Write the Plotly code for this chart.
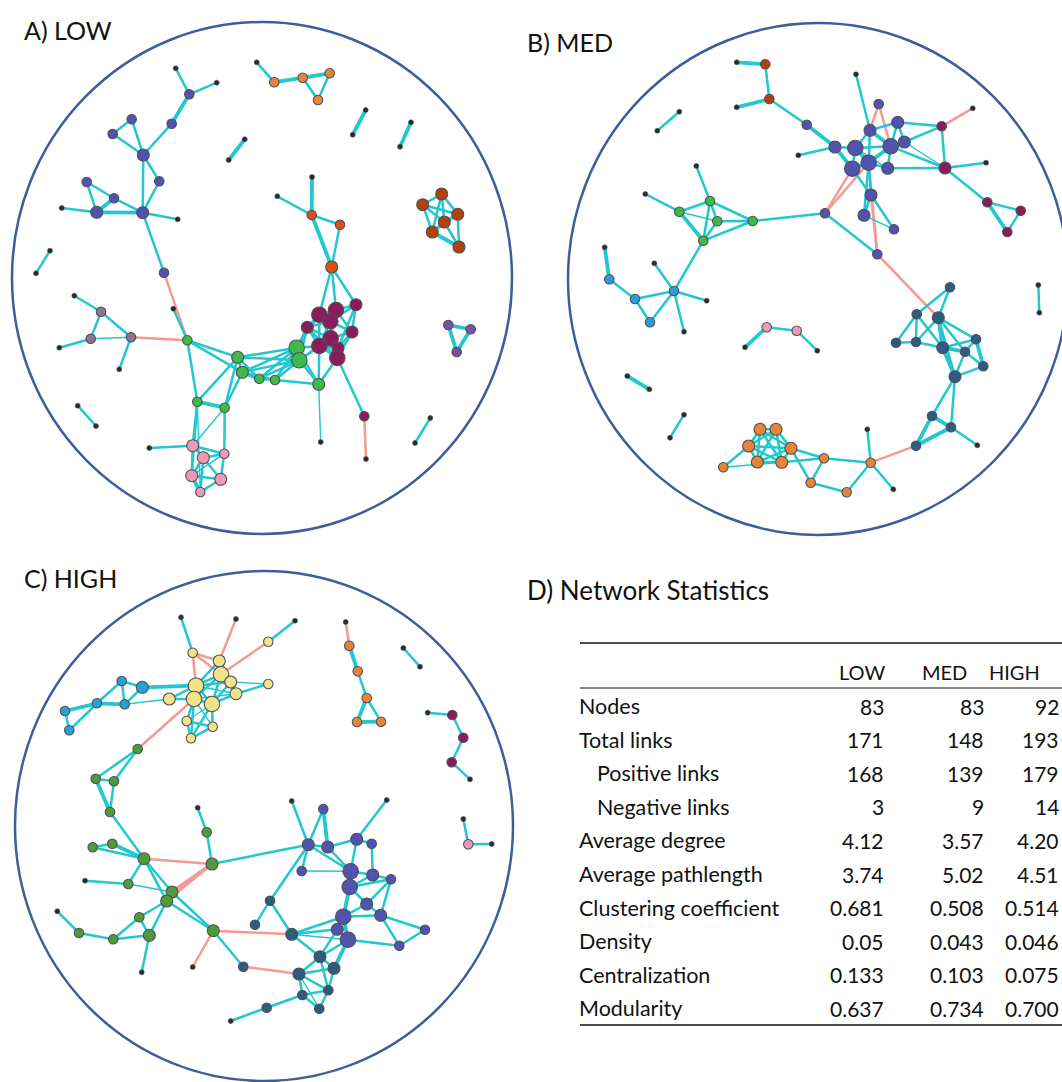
import plotly.graph_objects as go

# ---------------- DATA ----------------
# nodes: (id, x, y, community, degree class)   edges: (id1, id2, weight class)
A_nodes = [
    (1,175.7,68.3,'k',0),(2,216.7,82.7,'k',0),(3,189.3,94.3,'pu',1),(4,171.7,123.7,'pu',1),
    (5,131.7,119.3,'pu',1),(6,112.7,134,'pu',1),(7,143.3,155,'pu',2),(8,159.3,181.3,'pu',1),
    (9,86.7,182,'pu',1),(10,114,198.3,'pu',1),(11,96.7,212.3,'pu',2),(12,142.7,212.7,'pu',2),
    (13,61.7,208,'k',0),(14,177.7,219.3,'k',0),(15,164,272.7,'pu',1),
    (16,50,250.7,'k',0),(17,36,273.3,'k',0),(18,244.7,139.3,'k',0),(19,228.7,160,'k',0),
    (20,256.7,62.3,'k',0),(21,274.3,82.3,'or',1),(22,302.7,77.7,'or',1),(23,329.7,73.3,'or',1),(24,318,100,'or',1),
    (25,365.7,110,'k',0),(26,352.7,134.7,'k',0),(27,411,122.3,'k',0),(28,400,146.7,'k',0),
    (29,441.7,194,'rd',2),(30,422.7,204.7,'rd',2),(31,457.7,214.3,'rd',2),(32,444.3,222,'rd',2),
    (33,432.3,232,'rd',2),(34,459,247,'rd',2),
    (35,312,177,'k',0),(36,277.3,196.3,'k',0),(37,311.7,215,'og',1),(38,340,224.7,'og',1),(39,331.7,267,'og',2),
    (40,74.3,295.7,'k',0),(41,101,311.7,'gy',1),(42,90.7,338.7,'gy',1),(43,59.3,347.7,'k',0),
    (44,131,337.3,'gy',1),(45,119.3,369.3,'k',0),(46,77.7,405.7,'k',0),(47,96,426,'k',0),
    (48,173.3,308.7,'k',0),(49,187.3,340.3,'gr',1),(50,237.7,357.3,'gr',2),(51,242.3,372.3,'gr',2),
    (52,259.3,378.7,'gr',1),(53,197.3,401.7,'gr',1),(54,224.7,407.7,'gr',1),(55,296.7,347.7,'gr',3),
    (56,299.3,360.3,'gr',3),(57,275,380,'gr',1),(58,318.7,384.3,'gr',2),(59,320.7,442,'k',0),
    (60,149.3,448,'k',0),(61,192.7,445.7,'pk',2),(62,203.3,457.7,'pk',2),(63,224.3,453.7,'pk',1),
    (64,191.7,475.7,'pk',2),(65,220.7,479.3,'pk',2),(66,200.3,492,'pk',1),
    (67,356,304.7,'mg',2),(68,336,310,'mg',3),(69,319.3,314.7,'mg',3),(70,330.3,321.3,'mg',3),
    (71,307.3,327.3,'mg',2),(72,352,332,'mg',2),(73,330.7,338.3,'mg',3),(74,319.3,346,'mg',3),
    (75,338,348,'mg',2),(76,337.3,358,'mg',3),(77,364.3,416.3,'mg',1),(78,366,459,'k',0),
    (79,448.3,325,'vi',1),(80,470.7,329.3,'vi',1),(81,456.7,352,'vi',1),(82,430.3,418,'k',0),(83,415,443,'k',0),
]
A_pos_links = [
    (1,3,1),(2,3,1),(3,4,2),(4,7,1),(5,7,1),(6,7,1),(5,6,1),(7,12,1),(7,8,1),(8,12,1),(9,11,1),(9,10,1),
    (10,11,2),(10,12,1),(11,12,2),(13,11,1),(12,14,1),(12,15,1),(16,17,1),(18,19,2),
    (20,21,1),(21,22,2),(22,23,2),(22,24,1),(23,24,1),(25,26,2),(27,28,2),
    (29,30,1),(29,31,1),(29,32,1),(29,33,1),(30,31,1),(30,32,1),(30,33,1),(31,32,1),(31,34,1),
    (32,33,1),(32,34,1),(33,34,2),(31,33,1),
    (35,37,2),(36,37,1),(37,38,1),(37,39,2),(38,39,1),(39,69,1),(39,68,1),(39,67,1),
    (40,41,1),(41,42,1),(41,44,1),(42,44,0),(43,42,1),(44,45,1),(46,47,1),
    (48,49,1),(49,50,1),(49,51,1),(49,53,1),(53,54,2),(53,50,1),(54,51,1),(54,50,1),(50,51,1),(50,52,1),
    (51,52,2),(51,57,1),(52,57,1),(57,55,1),(52,55,1),(50,55,1),(51,55,1),(57,58,1),(55,56,1),(55,58,1),
    (56,58,1),(58,59,0),(55,71,1),(55,74,1),(56,74,1),(56,73,1),(55,69,1),(56,71,1),(58,76,1),(58,74,1),
    (52,56,1),(50,56,1),(51,56,1),(57,56,1),
    (67,68,1),(67,70,1),(67,72,1),(67,75,1),(68,69,1),(68,70,1),(68,73,1),(69,70,1),(69,71,1),(69,73,1),
    (70,71,1),(70,72,1),(70,73,1),(70,74,1),(71,73,1),(71,74,1),(72,73,1),(72,75,1),(72,76,1),(73,74,1),
    (73,75,1),(73,76,1),(74,75,1),(74,76,1),(75,76,1),(69,74,1),(68,72,1),(71,76,1),(76,77,1),
    (60,61,1),(61,62,1),(61,63,1),(61,64,1),(62,63,1),(62,64,1),(62,65,1),(62,66,1),(63,65,1),(64,66,2),
    (65,66,1),(64,65,1),(63,64,0),(53,61,1),(53,64,1),(54,63,1),(54,61,0),(53,66,0),
    (79,80,2),(79,81,2),(80,81,2),(82,83,1),
]
A_neg_links = [(15,49,1),(44,49,1),(77,78,1)]

B_nodes = [
    (1,736.7,62.3,'k',0),(2,765.3,64.3,'rd',1),(3,769.3,99,'rd',1),(4,736.7,107.3,'k',0),
    (5,679.3,111.7,'k',0),(6,657.3,130.7,'k',0),
    (7,696.3,166,'k',0),(8,645.3,194,'k',0),(9,710,201,'gr',1),(10,679.3,211.7,'gr',1),
    (11,717.3,221.3,'gr',1),(12,752.7,221,'gr',1),(13,703.3,240.7,'gr',1),
    (14,604.7,247.3,'k',0),(15,609.3,279.3,'bl',1),(16,635,299,'bl',1),(17,674,291,'bl',1),
    (18,654.3,263.3,'k',0),(19,650,322.3,'bl',1),(20,706.7,300.7,'k',0),(21,684,331.7,'k',0),
    (22,766.7,327.3,'pk',1),(23,745,347.3,'k',0),(24,796.7,330.7,'pk',1),(25,817.3,350.7,'k',0),
    (26,627.3,376,'k',0),(27,649.3,389.3,'k',0),(28,684,414.7,'k',0),(29,670,437.7,'k',0),
    (30,760,429.3,'or',2),(31,776,429.3,'or',2),(32,748.7,446,'or',2),(33,757.3,462,'or',2),
    (34,781.7,462.3,'or',2),(35,791,448.3,'or',2),(36,723.3,467.3,'or',1),(37,824,458.3,'or',1),
    (38,810.7,482.7,'or',1),(39,846.7,492.3,'or',1),(40,870.7,462.7,'or',1),(41,867.3,429.3,'k',0),
    (42,893.3,489.3,'k',0),
    (43,950,287.3,'dt',1),(44,916.7,314.3,'dt',1),(45,938.3,317.7,'dt',2),(46,896,342.7,'dt',1),
    (47,916,342,'dt',1),(48,942.7,347.7,'dt',2),(49,976,339.3,'dt',1),(50,965,351.7,'dt',1),
    (51,983.3,366.3,'dt',1),(52,955,376.7,'dt',2),(53,932,416,'dt',1),(54,951,427.3,'dt',1),
    (55,916,445.7,'dt',1),(56,977.3,445.3,'k',0),(57,1038.3,285,'k',0),(58,1039.3,312.7,'k',0),
    (59,856,74.3,'k',0),(60,878.7,104,'pu',1),(61,806.7,124.7,'pu',1),(62,897.7,122.3,'pu',2),
    (63,870,130.3,'pu',2),(64,904.3,142,'pu',2),(65,835,147,'pu',2),(66,855.3,148,'pu',3),
    (67,890.7,146.3,'pu',3),(68,798.3,155.3,'k',0),(69,868.7,162.7,'pu',3),(70,852.3,168.7,'pu',3),
    (71,887.7,168.3,'pu',2),(72,871,195,'pu',2),(73,864,215.3,'pu',2),(74,894,229.3,'pu',1),
    (75,825,213.3,'pu',1),(76,877.3,254.3,'pu',1),
    (77,941.7,126.3,'mg',1),(78,972.7,108.3,'k',0),(79,945,168,'mg',2),(80,986,162.7,'k',0),
    (81,987.3,202.3,'mg',1),(82,1020.7,210.7,'mg',1),(83,1007.3,232,'mg',1),
]
B_pos_links = [
    (1,2,2),(2,3,1),(3,4,2),(3,61,1),(5,6,1),
    (7,9,1),(8,10,1),(10,9,1),(10,11,0),(10,13,2),(9,11,1),(9,13,1),(9,12,1),(11,12,1),(11,13,1),
    (13,12,1),(12,75,1),(13,17,1),
    (14,15,2),(15,16,1),(16,17,1),(16,19,1),(19,17,1),(17,18,1),(17,20,1),(17,21,1),
    (23,22,2),(22,24,1),(24,25,1),(26,27,2),(28,29,1),
    (30,31,1),(30,32,1),(30,33,1),(30,34,1),(30,35,1),(31,32,1),(31,33,1),(31,34,1),(31,35,1),
    (32,33,1),(32,34,1),(32,35,1),(33,34,1),(33,35,1),(34,35,1),(36,32,1),(36,34,0),(35,37,1),
    (34,37,1),(35,38,1),(37,38,1),(37,40,1),(38,39,1),(39,40,1),(40,41,1),(40,42,1),
    (43,44,1),(43,45,1),(44,46,1),(44,47,1),(44,48,1),(46,47,1),(47,48,1),(47,45,1),(45,48,2),
    (45,50,1),(45,49,1),(45,52,1),(48,50,2),(48,52,2),(48,49,1),(49,50,1),(49,51,2),(50,51,1),
    (50,52,1),(51,52,1),(52,53,1),(52,54,1),(53,54,2),(53,55,2),(54,55,2),(54,56,1),(57,58,1),
    (59,63,1),(61,65,2),(68,65,1),(65,66,1),(65,70,2),(66,63,1),(66,69,2),(66,67,1),(63,62,1),
    (63,67,2),(62,64,1),(62,67,1),(67,64,1),(67,69,2),(69,70,2),(69,71,1),(70,66,1),(69,72,1),
    (70,72,1),(72,73,1),(72,74,1),(73,74,0),(73,69,1),(63,69,1),(66,71,0),(67,71,1),(75,76,1),
    (77,79,1),(77,64,1),(77,62,1),(79,80,1),(79,81,1),(81,82,1),(81,83,2),(82,83,1),(71,79,1),
    (67,79,1),(64,79,0),
]
B_neg_links = [(40,55,1),(70,75,1),(69,75,1),(60,67,1),(60,63,1),(69,76,1),(72,76,1),(76,45,1),(77,78,1)]

C_nodes = [
    (1,181,617.3,'k',0),(2,236,619,'k',0),(3,192.7,652.7,'ye',1),(4,219.3,661,'ye',2),
    (5,268.3,641.7,'ye',1),(6,295,620.7,'k',0),(7,221,674.3,'ye',3),(8,230.7,682,'ye',2),
    (9,196,685.7,'ye',3),(10,236,693.7,'ye',2),(11,169.3,699,'ye',2),(12,194,699,'ye',3),
    (13,212,704,'ye',3),(14,268.3,684,'ye',1),(15,186.7,721,'ye',1),(16,212.7,726.7,'ye',1),
    (17,191,738.3,'ye',1),
    (18,121.7,681,'bl',1),(19,142.3,687.3,'bl',2),(20,97,703.3,'bl',1),(21,124.7,704.3,'bl',1),
    (22,65,711,'bl',1),(23,69.3,730.3,'bl',1),
    (24,137.7,749,'gn',1),(25,95.7,778.7,'gn',1),(26,114,781.3,'gn',1),(27,110,812,'gn',1),
    (28,197.7,807.7,'k',0),(29,206.7,832.3,'gn',1),(30,92.7,847.3,'gn',1),(31,112.3,843.7,'gn',1),
    (32,144,858.7,'gn',2),(33,212,864,'gn',2),(34,85,880.7,'k',0),(35,128.3,884,'gn',1),
    (36,172,892,'gn',2),(37,166.7,901,'gn',2),(38,57.3,911.3,'k',0),(39,139.3,917.3,'gn',1),
    (40,79,933,'gn',1),(41,113.3,939.3,'gn',1),(42,149.3,935.3,'gn',2),(43,213.3,930.7,'gn',2),
    (44,141.7,972.3,'k',0),(45,192.7,967,'k',0),
    (46,243.3,966.7,'dt',1),(47,255,924.7,'dt',1),(48,266.7,1007.7,'dt',1),(49,230.7,1021,'k',0),
    (50,345.7,622,'k',0),(51,349.3,645.7,'or',1),(52,357.7,671.3,'or',1),(53,366.7,698,'or',1),
    (54,357,722,'or',1),(55,381,721.7,'or',1),(56,403.3,648,'k',0),(57,420,666.7,'k',0),
    (58,427.7,712.7,'k',0),(59,452.3,715,'mg',1),(60,463.3,737.7,'mg',1),(61,451.7,762.3,'mg',1),
    (62,470,779.3,'k',0),
    (63,291.7,801,'k',0),(64,323.3,809,'pu',1),(65,386.7,800,'k',0),(66,308.3,844.7,'pu',2),
    (67,327.7,847,'pu',2),(68,356.7,839.3,'pu',2),(69,371.7,843.7,'pu',1),(70,301.7,871,'pu',1),
    (71,350.7,871.3,'pu',3),(72,372.7,875,'pu',2),(73,391,879.3,'pu',1),(74,349.7,887,'pu',3),
    (75,366.7,904,'pu',2),(76,380.7,915.3,'pu',2),(77,343.3,916.7,'pu',3),(78,337.3,929.3,'pu',2),
    (79,348,939.7,'pu',3),(80,425,929.7,'pu',1),(81,399.3,945.7,'pu',1),
    (82,270,900.7,'dt',1),(83,291.7,934.3,'dt',2),(84,320,956.7,'dt',2),(85,334,968.3,'dt',2),
    (86,299,974,'dt',2),(87,302.3,995,'dt',1),(88,328.3,990.3,'dt',1),(89,319.3,1008.7,'dt',1),
    (90,463.3,819,'k',0),(91,468.3,844.3,'pk',1),(92,491.7,844,'k',0),
]
C_pos_links = [
    (1,3,1),(5,6,1),
    (4,7,1),(4,9,1),(4,8,1),(7,8,1),(7,9,1),(7,10,1),(7,12,1),(7,13,1),(8,9,1),(8,10,1),(8,13,1),
    (9,12,2),(9,13,1),(10,13,1),(10,12,0),(12,13,1),(9,10,0),(14,10,1),(14,8,0),(11,9,1),(11,12,1),
    (12,15,1),(12,17,1),(15,16,1),(15,17,1),(16,17,1),(13,16,1),(13,17,1),(12,16,0),(15,13,0),
    (22,20,2),(22,23,1),(23,20,1),(20,18,1),(20,21,2),(18,19,1),(18,21,1),(19,21,1),(19,9,2),(21,11,0),
    (24,25,1),(24,26,1),(25,26,1),(25,27,2),(26,27,1),(27,32,1),(28,29,1),(29,33,1),(30,31,1),
    (30,32,1),(31,32,2),(33,66,1),(32,35,1),(32,36,1),(32,37,1),(35,36,0),(35,34,1),(36,37,1),
    (37,39,1),(37,42,1),(37,43,1),(36,43,1),(39,41,1),(39,42,1),(41,42,1),(40,41,1),(40,38,1),
    (42,44,1),(43,46,1),(47,82,1),(48,49,1),(48,87,1),
    (51,52,2),(52,53,1),(53,54,2),(53,55,1),(54,55,2),(56,57,1),
    (58,59,1),(59,60,1),(60,61,1),(61,62,1),
    (63,66,1),(64,66,1),(64,67,2),(65,68,1),(66,67,1),(67,68,1),(68,69,1),(66,71,1),(67,71,1),
    (68,71,1),(69,72,1),(71,72,1),(71,74,2),(72,73,1),(72,74,1),(73,74,1),(73,75,1),(73,76,1),
    (74,75,1),(74,77,2),(75,77,1),(75,76,1),(76,77,1),(76,80,1),(76,81,1),(80,81,1),(77,78,1),
    (77,79,2),(78,79,1),(79,81,1),(70,71,0),(70,66,1),(82,66,1),(82,83,1),(83,77,1),(83,78,1),
    (83,79,0),(83,84,1),(84,85,1),(84,86,1),(84,88,1),(85,86,1),(85,88,1),(86,87,1),(86,88,1),
    (87,88,1),(87,89,1),(88,89,1),(85,79,2),(84,78,1),(86,89,0),(79,84,1),
    (90,91,1),(91,92,1),
]
C_neg_links = [(3,9,1),(3,4,1),(3,7,1),(2,4,1),(5,7,1),(12,24,1),(32,33,1),(36,33,2),(37,33,1),
               (43,45,1),(43,83,1),(46,86,1),(50,51,1)]

panel_titles = ["A) LOW", "B) MED", "C) HIGH", "D) Network Statistics"]

table_columns = ["LOW", "MED", "HIGH"]
row_labels = ["Nodes", "Total links", "Positive links", "Negative links", "Average degree",
              "Average pathlength", "Clustering coefficient", "Density", "Centralization", "Modularity"]
indented_rows = ["Positive links", "Negative links"]
low_vals = ["83", "171", "168", "3", "4.12", "3.74", "0.681", "0.05", "0.133", "0.637"]
med_vals = ["83", "148", "139", "9", "3.57", "5.02", "0.508", "0.043", "0.103", "0.734"]
high_vals = ["92", "193", "179", "14", "4.20", "4.51", "0.514", "0.046", "0.075", "0.700"]

# ---------------- STYLE ----------------
W, H = 1062, 1082
COLORS = {
    'k': '#2b2b2b', 'pu': '#5153b0', 'or': '#e8843a', 'rd': '#b3400f', 'og': '#dc4e12',
    'gy': '#86778f', 'gr': '#3dba4a', 'pk': '#eb9bb7', 'mg': '#8a1c5d', 'vi': '#7a4fa6',
    'bl': '#2a9fd6', 'dt': '#2d5c80', 'ye': '#f2e38a', 'gn': '#4f9a3c',
}
SIZES = {0: 5, 1: 9.5, 2: 12, 3: 15.5}
EDGE_W = {0: 1.4, 1: 2.5, 2: 3.8}
POS_COLOR = '#22c7cf'
NEG_COLOR = '#f59a92'
FONT = 'Lato, Open Sans, sans-serif'


def px(x):
    return x / W


def py(y):
    return 1 - y / H


fig = go.Figure()

ellipses = [(262, 278, 250, 256), (818, 279, 250, 256), (264, 826, 249, 255)]
for cx, cy, rx, ry in ellipses:
    fig.add_shape(type='circle', xref='x', yref='y', x0=cx - rx, x1=cx + rx, y0=cy - ry, y1=cy + ry,
                  line=dict(color='#3d5d9c', width=2.5), layer='below')

for nodes, pos_links, neg_links in [(A_nodes, A_pos_links, A_neg_links),
                                    (B_nodes, B_pos_links, B_neg_links),
                                    (C_nodes, C_pos_links, C_neg_links)]:
    loc = {n[0]: (n[1], n[2]) for n in nodes}
    for links, col in [(neg_links, NEG_COLOR), (pos_links, POS_COLOR)]:
        for w in (0, 1, 2):
            xs, ys = [], []
            for a, b, ww in links:
                if ww != w:
                    continue
                xs += [loc[a][0], loc[b][0], None]
                ys += [loc[a][1], loc[b][1], None]
            if xs:
                fig.add_trace(go.Scatter(x=xs, y=ys, mode='lines', hoverinfo='skip', showlegend=False,
                                         line=dict(color=col, width=EDGE_W[w])))
    fig.add_trace(go.Scatter(
        x=[n[1] for n in nodes], y=[n[2] for n in nodes], mode='markers', showlegend=False,
        hoverinfo='skip',
        marker=dict(color=[COLORS[n[3]] for n in nodes], size=[SIZES[n[4]] for n in nodes],
                    line=dict(color='#505050', width=[0.6 if n[4] == 0 else 1.1 for n in nodes]),
                    opacity=1)))

# panel titles
title_pos = [(22, 30), (525, 42), (22, 578), (525, 590)]
title_size = [25, 25, 25, 26]
for t, (x, y), s in zip(panel_titles, title_pos, title_size):
    fig.add_annotation(x=px(x), y=py(y), xref='paper', yref='paper', text=t, showarrow=False,
                       xanchor='left', yanchor='middle', font=dict(family=FONT, size=s, color='#111'))

# table
fig.add_shape(type='line', xref='x', yref='y', x0=580, x1=1070, y0=643, y1=643, line=dict(color='#111', width=1.6))
fig.add_shape(type='line', xref='x', yref='y', x0=580, x1=1070, y0=688, y1=688, line=dict(color='#111', width=1))
fig.add_shape(type='line', xref='x', yref='y', x0=580, x1=1070, y0=1025, y1=1025, line=dict(color='#111', width=1.6))
head_x = [862, 944, 1014]
for t, x in zip(table_columns, head_x):
    fig.add_annotation(x=px(x), y=py(672), xref='paper', yref='paper', text=t, showarrow=False,
                       xanchor='center', yanchor='middle', font=dict(family=FONT, size=20, color='#111'))
col_right = [886, 986, 1061]
for i, lab in enumerate(row_labels):
    y = 706 + i * 33.6
    lx = 595 if lab in indented_rows else 577
    fig.add_annotation(x=px(lx), y=py(y), xref='paper', yref='paper', text=lab, showarrow=False,
                       xanchor='left', yanchor='middle', font=dict(family=FONT, size=21.5, color='#111'))
    for vals, xr in zip([low_vals, med_vals, high_vals], col_right):
        fig.add_annotation(x=px(xr), y=py(y), xref='paper', yref='paper', text=vals[i], showarrow=False,
                           xanchor='right', yanchor='middle', font=dict(family=FONT, size=21, color='#111'))

fig.update_layout(
    width=W, height=H, margin=dict(l=0, r=0, t=0, b=0),
    paper_bgcolor='white', plot_bgcolor='white', showlegend=False,
    xaxis=dict(range=[0, W], visible=False, fixedrange=True),
    yaxis=dict(range=[H, 0], visible=False, fixedrange=True),
)
fig.write_html("out.html", config={'displayModeBar': False},
               post_script="document.body.style.margin='0';document.body.style.overflow='hidden';")
